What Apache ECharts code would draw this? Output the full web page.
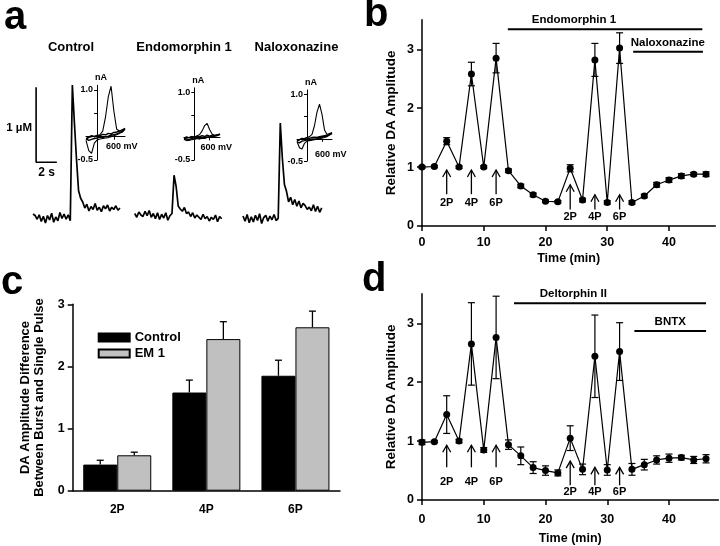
<!DOCTYPE html>
<html><head><meta charset="utf-8">
<script src="https://cdn.jsdelivr.net/npm/echarts@6/dist/echarts.min.js"></script>
<style>html,body{margin:0;padding:0;background:#fff}#c{width:720px;height:546px}</style>
</head><body><div id="c"></div>
<script>
const F = '"Liberation Sans", Arial, Helvetica, sans-serif';

// ---------- Panel a : amperometric traces (µM vs s) ----------
const traceTitles = ['Control', 'Endomorphin 1', 'Naloxonazine'];
const traceTime = [0,0.2,0.4,0.6,0.8,1.0,1.2,1.4,1.6,1.8,2.0,2.2,2.4,2.6,2.8,3.0,3.2,3.4,3.6,3.8,4.0,4.2,4.4,4.6,4.8,5.0,5.2,5.4,5.6,5.8,6.0,6.2,6.4,6.6,6.8,7.0,7.2,7.4,7.6,7.8,8.0,8.2,8.4];
const traceControl = [0.04,0.02,-0.03,0.03,-0.06,0.01,-0.08,0.02,-0.04,0.05,-0.07,0.0,-0.05,0.06,-0.02,0.04,-0.03,0.03,-0.05,
  1.76,1.25,0.77,0.35,0.25,
  0.20,0.12,0.17,0.08,0.14,0.10,0.18,0.09,0.13,0.07,0.15,0.11,0.16,0.08,0.13,0.10,0.15,0.09,0.12];
const traceEM1 = [0.02,-0.03,0.04,0.0,-0.02,0.05,-0.01,0.06,-0.03,0.02,-0.05,0.03,-0.06,0.01,-0.04,0.03,-0.07,-0.01,0.02,
  0.53,0.38,0.12,0.08,
  0.05,0.10,0.02,0.04,-0.02,0.03,-0.04,0.0,-0.03,-0.06,0.01,-0.05,-0.02,-0.08,-0.03,-0.06,0.0,-0.09,-0.02,-0.05];
const traceNalox = [0.03,-0.04,0.05,-0.06,0.02,-0.05,0.04,-0.03,0.06,-0.07,0.01,0.04,-0.04,0.03,-0.02,0.05,-0.03,0.0,
  1.27,0.80,0.45,0.36,
  0.22,0.28,0.18,0.25,0.16,0.23,0.14,0.20,0.17,0.12,0.15,0.10,0.18,0.09,0.16,0.08,0.14];
const scaleBarUM = 1;   // µM
const scaleBarS = 2;    // s

// ---------- Panel a insets : cyclic voltammograms (nA vs V) ----------
const cvPotential = [-0.4,-0.3,-0.2,-0.1,0,0.1,0.2,0.3,0.4,0.5,0.6,0.7,0.8,0.9,1.0];
const cvCtrlFwd = [-0.06,-0.02,0.0,0.01,0.02,0.04,0.12,0.42,0.85,1.08,0.55,0.16,0.12,0.15,0.18];
const cvCtrlRev = [-0.08,-0.30,-0.36,-0.14,-0.07,-0.05,-0.04,-0.03,-0.02,0.0,0.02,0.04,0.07,0.11,0.18];
const bgCtrlFwd = [-0.04,-0.01,0.02,0.0,0.03,0.02,0.05,0.04,0.07,0.06,0.09,0.10,0.12,0.13,0.16];
const bgCtrlRev = [-0.05,-0.08,-0.06,-0.04,-0.03,-0.01,-0.02,0.0,0.01,0.03,0.04,0.06,0.08,0.10,0.16];
const cvEmFwd = [-0.03,-0.01,0.0,0.02,0.01,0.03,0.06,0.14,0.26,0.31,0.17,0.07,0.05,0.06,0.07];
const cvEmRev = [-0.04,-0.07,-0.06,-0.05,-0.04,-0.03,-0.03,-0.02,-0.02,0.0,0.01,0.02,0.03,0.05,0.07];
const bgEmFwd = [-0.02,0.01,-0.01,0.02,0.0,0.03,0.01,0.04,0.02,0.05,0.03,0.05,0.04,0.06,0.07];
const bgEmRev = [-0.05,-0.03,-0.06,-0.02,-0.04,-0.01,-0.03,0.0,-0.02,0.01,0.0,0.02,0.03,0.04,0.07];
const cvNxFwd = [-0.05,-0.02,0.0,0.01,0.03,0.05,0.10,0.30,0.60,0.78,0.55,0.20,0.10,0.12,0.14];
const cvNxRev = [-0.06,-0.20,-0.23,-0.10,-0.05,-0.04,-0.03,-0.02,-0.01,0.0,0.02,0.03,0.05,0.09,0.14];
const bgNxFwd = [-0.04,-0.02,0.01,0.0,0.02,0.01,0.03,0.04,0.03,0.05,0.06,0.07,0.08,0.10,0.12];
const bgNxRev = [-0.07,-0.09,-0.05,-0.04,-0.02,-0.03,-0.01,0.0,0.01,0.02,0.03,0.05,0.06,0.09,0.12];

// ---------- Panel b ----------
const bTime = [0,2,4,6,8,10,12,14,16,18,20,22,24,26,28,30,32,34,36,38,40,42,44,46];
const bMean = [1.00,1.01,1.44,1.00,2.58,1.00,2.85,0.94,0.68,0.53,0.42,0.41,0.98,0.44,2.82,0.40,3.02,0.40,0.51,0.70,0.78,0.85,0.88,0.88];
const bErr  = [0.02,0.02,0.06,0.02,0.20,0.02,0.25,0.03,0.03,0.03,0.02,0.02,0.06,0.03,0.28,0.03,0.26,0.03,0.03,0.04,0.04,0.04,0.03,0.04];
const bArrowT = [4,8,12,24,28,32];
const bArrowLabel = ['2P','4P','6P','2P','4P','6P'];
const bArrowTip = [0.95,0.95,0.95,0.70,0.53,0.53];
const bArrowBase = [0.54,0.54,0.54,0.28,0.28,0.28];
const bArrowText = [0.385,0.385,0.385,0.16,0.16,0.16];
const bDrugName = ['Endomorphin 1','Naloxonazine'];
const bDrugStart = [13.9,34.2];
const bDrugEnd = [45.4,45.5];
const bDrugLevel = [3.34,2.96];
const bDrugTextAt = [24.6,39.8];

// ---------- Panel c ----------
const cCats = ['2P','4P','6P'];
const cSeriesNames = ['Control','EM 1'];
const cControl = [0.42,1.58,1.85];
const cControlErr = [0.07,0.20,0.25];
const cEM = [0.57,2.44,2.63];
const cEMErr = [0.05,0.28,0.26];

// ---------- Panel d ----------
const dTime = bTime;
const dMean = [0.98,0.99,1.45,1.00,2.65,0.85,2.76,0.94,0.75,0.55,0.50,0.46,1.05,0.52,2.44,0.51,2.52,0.52,0.60,0.68,0.71,0.72,0.68,0.70];
const dErr  = [0.04,0.02,0.32,0.03,0.70,0.04,0.70,0.08,0.15,0.10,0.08,0.05,0.21,0.09,0.70,0.09,0.49,0.10,0.09,0.07,0.07,0.04,0.06,0.07];
const dArrowT = [4,8,12,24,28,32];
const dArrowLabel = ['2P','4P','6P','2P','4P','6P'];
const dArrowTip = [0.93,0.93,0.93,0.66,0.555,0.555];
const dArrowBase = [0.555,0.555,0.555,0.25,0.25,0.25];
const dArrowText = [0.31,0.31,0.31,0.14,0.14,0.14];
const dDrugName = ['Deltorphin II','BNTX'];
const dDrugStart = [14.9,34.4];
const dDrugEnd = [46.0,46.0];
const dDrugLevel = [3.34,2.87];
const dDrugTextAt = [24.5,40.2];

// ================= build =================
const chart = echarts.init(document.getElementById('c'), null, {renderer:'canvas'});
const K = '#000';
const txt = (size) => ({color:K, fontFamily:F, fontWeight:'bold', fontSize:size});

const grids = [
  {left:33, top:82, width:87, height:157.5},
  {left:134.7, top:80, width:87, height:157.5},
  {left:243, top:83.3, width:87, height:157.5},
  {left:86, top:85.3, width:39, height:74.7},
  {left:184, top:87.8, width:36, height:72.2},
  {left:297, top:89.9, width:35, height:71.2},
  {left:422, top:19.85, width:293.3, height:206.15},
  {left:72.7, top:304.3, width:267.3, height:186.4},
  {left:422, top:293.85, width:296.4, height:206.15}
];
const insetShift = [-11.1, -10.3, -10];   // y axis drawn at 0 V

const hiddenX = (g) => ({gridIndex:g, type:'value', min:0, max:8.4, show:false});
const hiddenY = (g) => ({gridIndex:g, type:'value', min:-0.3, max:1.8, show:false});
const insetX = (g) => ({gridIndex:g, type:'value', min:-0.4, max:1.0,
  axisLine:{onZero:true, lineStyle:{color:K, width:1}},
  axisTick:{customValues:[0.6], length:3, lineStyle:{color:K, width:1}},
  axisLabel:{show:false}, splitLine:{show:false}});
const insetY = (g, off) => ({gridIndex:g, type:'value', min:-0.5, max:1.1, offset:off,
  name:'nA', nameLocation:'end', nameGap:3, nameTextStyle:Object.assign(txt(9),{align:'left', padding:[0,0,0,-2]}),
  axisLine:{onZero:false, lineStyle:{color:K, width:1}},
  axisTick:{customValues:[-0.5,0,0.5,1.0], length:3, lineStyle:{color:K, width:1}},
  axisLabel:Object.assign(txt(9),{customValues:[-0.5,1.0], margin:4, formatter:v => v>0 ? '1.0' : '-0.5'}),
  splitLine:{show:false}});

const timeAxisX = (g, max, margin, gap) => ({gridIndex:g, type:'value', min:0, max:max,
  name:'Time (min)', nameLocation:'middle', nameGap:gap, nameTextStyle:txt(12.5),
  axisLine:{onZero:false, lineStyle:{color:K, width:1.5}},
  axisTick:{customValues:[0,10,20,30,40], length:5, lineStyle:{color:K, width:1.5}},
  axisLabel:Object.assign(txt(12.5),{customValues:[0,10,20,30,40], margin:margin}),
  splitLine:{show:false}});
const relY = (g) => ({gridIndex:g, type:'value', min:0, max:3.5,
  name:'Relative DA Amplitude', nameLocation:'middle', nameGap:24, nameTextStyle:txt(13.5),
  axisLine:{onZero:false, lineStyle:{color:K, width:1.5}},
  axisTick:{customValues:[0,1,2,3], length:5, lineStyle:{color:K, width:1.5}},
  axisLabel:Object.assign(txt(12.5),{customValues:[0,1,2,3], margin:8}),
  splitLine:{show:false}});

const xAxes = [hiddenX(0), hiddenX(1), hiddenX(2), insetX(3), insetX(4), insetX(5),
  timeAxisX(6, 47.5, 10, 26),
  {gridIndex:7, type:'category', data:cCats,
    axisLine:{lineStyle:{color:K, width:1.5}},
    axisTick:{alignWithLabel:true, length:5, lineStyle:{color:K, width:1.5}},
    axisLabel:Object.assign(txt(12),{margin:13})},
  timeAxisX(8, 48, 13, 32)];
const yAxes = [hiddenY(0), hiddenY(1), hiddenY(2), insetY(3, insetShift[0]), insetY(4, insetShift[1]), insetY(5, insetShift[2]),
  relY(6),
  {gridIndex:7, type:'value', min:0, max:3, interval:1,
    name:'DA Amplitude Difference\nBetween Burst and Single Pulse', nameLocation:'middle', nameGap:26,
    nameTextStyle:Object.assign(txt(13),{lineHeight:14}),
    axisLine:{show:true, lineStyle:{color:K, width:1.5}},
    axisTick:{show:true, length:5, lineStyle:{color:K, width:1.5}},
    axisLabel:Object.assign(txt(12.5),{margin:8}),
    splitLine:{show:false}},
  relY(8)];

const series = [];
// traces
[traceControl, traceEM1, traceNalox].forEach((tr, i) => {
  series.push({type:'line', xAxisIndex:i, yAxisIndex:i, symbol:'none', silent:true,
    lineStyle:{color:K, width:1.7}, data: tr.map((v, j) => [traceTime[j], v])});
});
// scale bar (drawn in control trace scale)
series.push({type:'line', xAxisIndex:0, yAxisIndex:0, symbol:'none', silent:true,
  lineStyle:{color:K, width:1.6},
  data:[[0.3, 0.73 + scaleBarUM], [0.3, 0.73], [0.3 + scaleBarS, 0.73]]});
// CVs
const loop = (fwd, rev) => fwd.map((v, j) => [cvPotential[j], v]).concat(rev.map((v, j) => [cvPotential[j], v]).reverse());
[[cvCtrlFwd, cvCtrlRev, bgCtrlFwd, bgCtrlRev], [cvEmFwd, cvEmRev, bgEmFwd, bgEmRev], [cvNxFwd, cvNxRev, bgNxFwd, bgNxRev]].forEach((s, i) => {
  series.push({type:'line', xAxisIndex:3+i, yAxisIndex:3+i, symbol:'none', silent:true,
    lineStyle:{color:K, width:1.4}, data: loop(s[2], s[3])});
  series.push({type:'line', xAxisIndex:3+i, yAxisIndex:3+i, symbol:'none', silent:true,
    lineStyle:{color:K, width:1.1}, data: loop(s[0], s[1])});
});

// error bar renderer
function errBar(offset, upOnly, hw, lw) {
  return function (params, api) {
    const x = api.value(0), m = api.value(1), e = api.value(2);
    const t = api.coord([x, m + e]), b = api.coord(upOnly ? [x, m] : [x, m - e]);
    const st = {stroke:K, lineWidth:lw};
    const cx = t[0] + offset;
    const ch = [
      {type:'line', shape:{x1:cx, y1:t[1], x2:cx, y2:b[1]}, style:st},
      {type:'line', shape:{x1:cx - hw, y1:t[1], x2:cx + hw, y2:t[1]}, style:st}
    ];
    if (!upOnly) ch.push({type:'line', shape:{x1:cx - hw, y1:b[1], x2:cx + hw, y2:b[1]}, style:st});
    return {type:'group', children:ch};
  };
}
function arrowRender(params, api) {
  const x = api.value(0);
  const tip = api.coord([x, api.value(1)]), base = api.coord([x, api.value(2)]), tp = api.coord([x, api.value(3)]);
  const st = {stroke:K, lineWidth:1.3, fill:null};
  return {type:'group', children:[
    {type:'line', shape:{x1:tip[0], y1:tip[1], x2:base[0], y2:base[1]}, style:st},
    {type:'polyline', shape:{points:[[tip[0]-4, tip[1]+7], [tip[0], tip[1]], [tip[0]+4, tip[1]+7]]}, style:st},
    {type:'text', x:tp[0], y:tp[1], style:{text:api.value(4), fill:K,
      font:'bold 11px ' + F, textAlign:'center', textVerticalAlign:'middle'}}
  ]};
}
function drugRender(params, api) {
  const s = api.coord([api.value(0), api.value(2)]), e = api.coord([api.value(1), api.value(2)]);
  const tx = api.coord([api.value(3), api.value(2)]);
  return {type:'group', children:[
    {type:'line', shape:{x1:s[0], y1:s[1], x2:e[0], y2:e[1]}, style:{stroke:K, lineWidth:2}},
    {type:'text', x:tx[0], y:s[1] - 9, style:{text:api.value(4), fill:K, font:'bold 11.5px ' + F,
      textAlign:'center', textVerticalAlign:'middle'}}
  ]};
}

function timeCourse(g, time, mean, err, aT, aTip, aBase, aText, aLab, dS, dE, dL, dT, dN) {
  series.push({type:'line', xAxisIndex:g, yAxisIndex:g, name:'mean'+g, symbol:'circle', symbolSize:7,
    itemStyle:{color:K}, lineStyle:{color:K, width:1.2}, data: time.map((t, i) => [t, mean[i]]), z:3});
  series.push({type:'custom', xAxisIndex:g, yAxisIndex:g, name:'err'+g, renderItem:errBar(0, false, 3.5, 1.2),
    data: time.map((t, i) => [t, mean[i], err[i]]), encode:{x:0, y:[1]}, z:4});
  series.push({type:'custom', xAxisIndex:g, yAxisIndex:g, name:'arrows'+g, renderItem:arrowRender,
    dimensions:['x','tip','base','text',{name:'label', type:'ordinal'}],
    data: aT.map((t, i) => [t, aTip[i], aBase[i], aText[i], aLab[i]]), encode:{x:0, y:[1]}, z:5});
  series.push({type:'custom', xAxisIndex:g, yAxisIndex:g, name:'drugs'+g, renderItem:drugRender,
    dimensions:['s','e','lvl','tx',{name:'label', type:'ordinal'}],
    data: dS.map((s, i) => [s, dE[i], dL[i], dT[i], dN[i]]), encode:{x:[0,1], y:[2]}, z:5});
}
timeCourse(6, bTime, bMean, bErr, bArrowT, bArrowTip, bArrowBase, bArrowText, bArrowLabel, bDrugStart, bDrugEnd, bDrugLevel, bDrugTextAt, bDrugName);
timeCourse(8, dTime, dMean, dErr, dArrowT, dArrowTip, dArrowBase, dArrowText, dArrowLabel, dDrugStart, dDrugEnd, dDrugLevel, dDrugTextAt, dDrugName);

// panel c
series.push({type:'bar', name:cSeriesNames[0], xAxisIndex:7, yAxisIndex:7, data:cControl, barWidth:34, barGap:'0%',
  itemStyle:{color:'#000', borderColor:'#000', borderWidth:1}});
series.push({type:'bar', name:cSeriesNames[1], xAxisIndex:7, yAxisIndex:7, data:cEM, barWidth:34, barGap:'0%',
  itemStyle:{color:'#c0c0c0', borderColor:'#000', borderWidth:1}});
series.push({type:'custom', name:'cErr0', xAxisIndex:7, yAxisIndex:7, renderItem:errBar(-17, true, 3.5, 1.3),
  data: cControl.map((v, i) => [i, v, cControlErr[i]]), encode:{x:0, y:[1]}, z:4});
series.push({type:'custom', name:'cErr1', xAxisIndex:7, yAxisIndex:7, renderItem:errBar(17, true, 3.5, 1.3),
  data: cEM.map((v, i) => [i, v, cEMErr[i]]), encode:{x:0, y:[1]}, z:4});

const gtext = (x, y, t, size, align) => ({type:'text', x:x, y:y, style:{text:t, fill:K,
  font:'bold ' + size + 'px ' + F, textAlign:align || 'center', textVerticalAlign:'middle'}});
const plabel = (x, y, t) => ({type:'text', x:x, y:y, style:{text:t, fill:K, font:'bold 40px ' + F, textVerticalAlign:'top'}});

const option = {
  animation:false,
  backgroundColor:'#fff',
  grid: grids,
  xAxis: xAxes,
  yAxis: yAxes,
  legend: {data:cSeriesNames, orient:'vertical', left:92.7, top:326, itemWidth:31, itemHeight:8, itemGap:3,
    icon:'rect', textStyle:txt(13), selectedMode:false},
  series: series,
  graphic: [
    plabel(4, -2, 'a'),
    plabel(364, -5, 'b'),
    plabel(1, 263, 'c'),
    plabel(362, 260, 'd'),
    gtext(71, 47.7, traceTitles[0], 13),
    gtext(184, 47.7, traceTitles[1], 13),
    gtext(296.5, 47.7, traceTitles[2], 13),
    gtext(32, 127.7, '1 µM', 11.5, 'right'),
    gtext(46.7, 173, '2 s', 12),
    gtext(106, 147, '600 mV', 9, 'left'),
    gtext(200.5, 148, '600 mV', 9, 'left'),
    gtext(315, 155, '600 mV', 9, 'left')
  ]
};
chart.setOption(option);
</script>
</body></html>
